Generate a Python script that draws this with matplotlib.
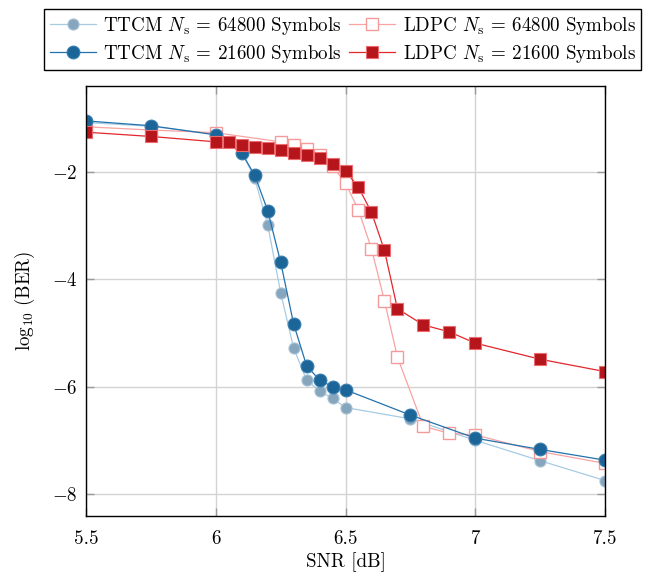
"""
BER curves for TTCM vs LDPC at two frame lengths
"""

import matplotlib
matplotlib.use("Agg")
import matplotlib.pyplot as plt

plt.rcParams["font.family"] = "serif"
plt.rcParams["font.serif"] = ["cmr10", "DejaVu Serif"]
plt.rcParams["mathtext.fontset"] = "cm"
plt.rcParams["axes.formatter.use_mathtext"] = True
plt.rcParams["axes.unicode_minus"] = True

FS = 13.7

# SNR points [dB] and log10(BER) values
ttcm_long_snr = [5.5, 5.75, 6.0, 6.1, 6.15, 6.2, 6.25, 6.3, 6.35, 6.4, 6.45, 6.5,
                 6.75, 7.0, 7.25, 7.5]
ttcm_long_ber = [-1.08, -1.15, -1.30, -1.62, -2.12, -2.98, -4.25, -5.28, -5.88,
                 -6.08, -6.22, -6.39, -6.60, -7.00, -7.38, -7.75]

ttcm_short_snr = [5.5, 5.75, 6.0, 6.1, 6.15, 6.2, 6.25, 6.3, 6.35, 6.4, 6.45, 6.5,
                  6.75, 7.0, 7.25, 7.5]
ttcm_short_ber = [-1.05, -1.14, -1.31, -1.65, -2.06, -2.72, -3.68, -4.83, -5.61,
                  -5.88, -6.00, -6.06, -6.53, -6.96, -7.17, -7.37]

ldpc_long_snr = [5.5, 5.75, 6.0, 6.25, 6.3, 6.35, 6.4, 6.45, 6.5, 6.55, 6.6, 6.65,
                 6.7, 6.8, 6.9, 7.0, 7.25, 7.5]
ldpc_long_ber = [-1.16, -1.22, -1.27, -1.44, -1.50, -1.58, -1.69, -1.89, -2.21,
                 -2.71, -3.43, -4.40, -5.45, -6.74, -6.87, -6.90, -7.21, -7.43]

ldpc_short_snr = [5.5, 5.75, 6.0, 6.05, 6.1, 6.15, 6.2, 6.25, 6.3, 6.35, 6.4, 6.45,
                  6.5, 6.55, 6.6, 6.65, 6.7, 6.8, 6.9, 7.0, 7.25, 7.5]
ldpc_short_ber = [-1.26, -1.34, -1.44, -1.45, -1.50, -1.53, -1.56, -1.60, -1.64,
                  -1.69, -1.75, -1.85, -1.98, -2.29, -2.75, -3.46, -4.55, -4.85,
                  -4.98, -5.19, -5.49, -5.72]

x_ticks = [5.5, 6, 6.5, 7, 7.5]
x_tick_labels = ["5.5", "6", "6.5", "7", "7.5"]
y_ticks = [-2, -4, -6, -8]

fig = plt.figure(figsize=(6.55, 5.73), dpi=100)
ax = fig.add_axes([0.1313, 0.0995, 0.7924, 0.7504])

# Plot in drawing order (light series behind)
h_tl, = ax.plot(ttcm_long_snr, ttcm_long_ber, color="#a6cbe3", lw=0.9,
                marker="o", ms=8, mfc="#86a6bd", mec="#a9c3d6", mew=0.8,
                label=r"TTCM $N_\mathrm{s}$ = 64800 Symbols")
h_ll, = ax.plot(ldpc_long_snr, ldpc_long_ber, color="#f8a3a3", lw=0.9,
                marker="s", ms=8.5, mfc="white", mec="#f59a9a", mew=1.0,
                label=r"LDPC $N_\mathrm{s}$ = 64800 Symbols")
h_ts, = ax.plot(ttcm_short_snr, ttcm_short_ber, color="#2272ad", lw=0.9,
                marker="o", ms=9.2, mfc="#1b6598", mec="#3a7fb0", mew=0.8,
                label=r"TTCM $N_\mathrm{s}$ = 21600 Symbols")
h_ls, = ax.plot(ldpc_short_snr, ldpc_short_ber, color="#e3272b", lw=0.9,
                marker="s", ms=8.5, mfc="#b5151b", mec="#ec6b6e", mew=0.8,
                label=r"LDPC $N_\mathrm{s}$ = 21600 Symbols")

ax.set_xlim(5.5, 7.5)
ax.set_ylim(-8.41, -0.4)
ax.set_xticks(x_ticks)
ax.set_yticks(y_ticks)
ax.set_xticklabels(x_tick_labels)
ax.grid(True, color="#d3d3d3", lw=1.0)
ax.set_axisbelow(True)
ax.tick_params(direction="in", top=True, right=True, length=6, width=1.0,
               color="#9a9a9a", labelsize=FS)
ax.tick_params(axis="x", pad=10)
ax.tick_params(axis="y", pad=6)
for s in ax.spines.values():
    s.set_linewidth(1.0)

ax.set_xlabel("SNR [dB]", fontsize=FS, labelpad=3)
ax.set_ylabel(r"$\log_{10}\,(\mathrm{BER})$", fontsize=FS, labelpad=11)

leg = ax.legend(handles=[h_tl, h_ts, h_ll, h_ls], ncol=2, loc="lower center",
                bbox_to_anchor=(0.495, 1.014), fontsize=FS, frameon=True,
                fancybox=False, edgecolor="black", framealpha=1,
                columnspacing=0.4, handlelength=2.4, handletextpad=0.4,
                borderpad=0.3, labelspacing=0.3)
leg.get_frame().set_linewidth(1.0)

fig.savefig("out.png", dpi=100)
